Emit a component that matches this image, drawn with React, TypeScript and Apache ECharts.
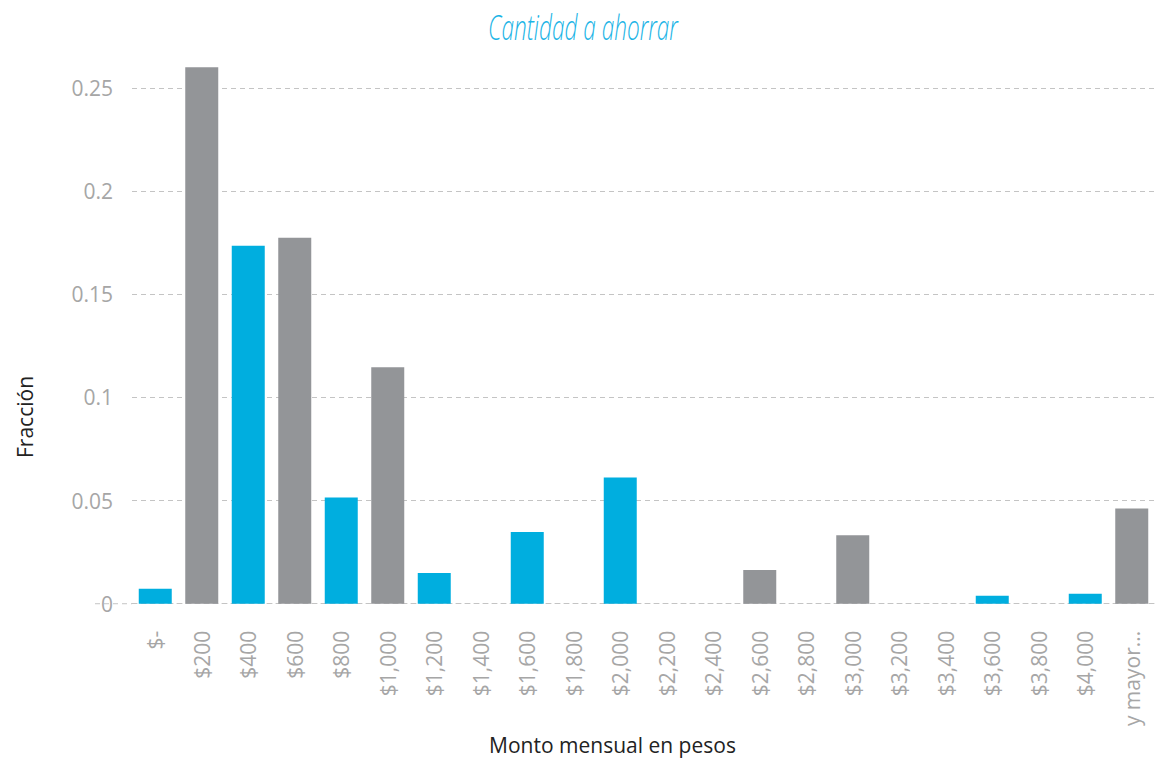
import React, { useEffect, useRef } from "react";
import * as echarts from "echarts";

// Monthly saving amount buckets (pesos) and the share of respondents in each
const categories = [
  "$-", "$200", "$400", "$600", "$800", "$1,000", "$1,200", "$1,400",
  "$1,600", "$1,800", "$2,000", "$2,200", "$2,400", "$2,600", "$2,800",
  "$3,000", "$3,200", "$3,400", "$3,600", "$3,800", "$4,000", "y mayor...",
];
const fractions = [
  0.0072, 0.260, 0.1734, 0.1773, 0.0515, 0.1146, 0.0149, 0,
  0.0347, 0, 0.0612, 0, 0, 0.0164, 0,
  0.0332, 0, 0, 0.0039, 0, 0.0048, 0.0462,
];
// Bars alternate blue / grey
const palette = ["#00AEDF", "#939598"];

const TITLE = "Cantidad a ahorrar";
const X_NAME = "Monto mensual en pesos";
const Y_NAME = "Fracción";

export default function App() {
  const ref = useRef<HTMLDivElement>(null);

  useEffect(() => {
    if (!ref.current) return;
    const chart = echarts.init(ref.current, null, { renderer: "svg" });
    const font = "'Open Sans', 'Noto Sans', sans-serif";
    const gridLeft = 132;
    const labelGrey = "#a6a6a6";
    const dash = { color: "#c4c4c4", type: [5, 4], width: 1 };
    chart.setOption({
      animation: false,
      backgroundColor: "#ffffff",
      grid: { left: gridLeft, right: 6, top: 46.5, height: 560.5, containLabel: false },
      xAxis: {
        type: "category",
        data: categories,
        name: X_NAME,
        nameLocation: "middle",
        nameGap: 129,
        nameTextStyle: {
          fontFamily: font,
          fontSize: 21,
          color: "#222222",
          padding: [0, 62, 0, 0],
        },
        axisLine: { show: true, lineStyle: dash },
        axisTick: { show: false },
        axisLabel: {
          rotate: 90,
          margin: 27,
          interval: 0,
          fontFamily: font,
          fontSize: 21,
          color: labelGrey,
        },
      },
      yAxis: {
        type: "value",
        min: 0,
        max: 0.27,
        interval: 0.05,
        axisLine: { show: false },
        axisTick: { show: false },
        axisLabel: {
          margin: 19,
          fontFamily: font,
          fontSize: 21,
          color: labelGrey,
          showMaxLabel: false,
        },
        splitLine: { show: true, showMaxLine: false, lineStyle: dash },
      },
      series: [
        {
          type: "bar",
          barWidth: 33,
          data: fractions.map((v, i) => ({
            value: v,
            itemStyle: { color: palette[i % 2] },
          })),
        },
      ],
    });

    // Baseline runs on past the value labels on the left
    const zeroY = chart.convertToPixel({ yAxisIndex: 0 }, 0) as number;
    chart.setOption({
      graphic: [
        {
          type: "text",
          x: 583,
          y: 26,
          scaleX: 0.665,
          style: {
            text: TITLE,
            font: `italic 300 34px ${font}`,
            fill: "#1BB4E6",
            align: "center",
            verticalAlign: "middle",
          },
        },
        {
          type: "text",
          x: 25,
          y: 417,
          rotation: Math.PI / 2,
          style: {
            text: Y_NAME,
            font: `400 21px ${font}`,
            fill: "#222222",
            align: "center",
            verticalAlign: "middle",
          },
        },
        {
          type: "line",
          z: -1,
          shape: { x1: 95, y1: zeroY, x2: gridLeft, y2: zeroY },
          style: { stroke: dash.color, lineWidth: 1, lineDash: [5, 4] },
        },
      ],
    });
    return () => chart.dispose();
  }, []);

  return (
    <div
      ref={ref}
      style={{ position: "absolute", left: 0, top: 0, width: 1161, height: 760 }}
    />
  );
}
